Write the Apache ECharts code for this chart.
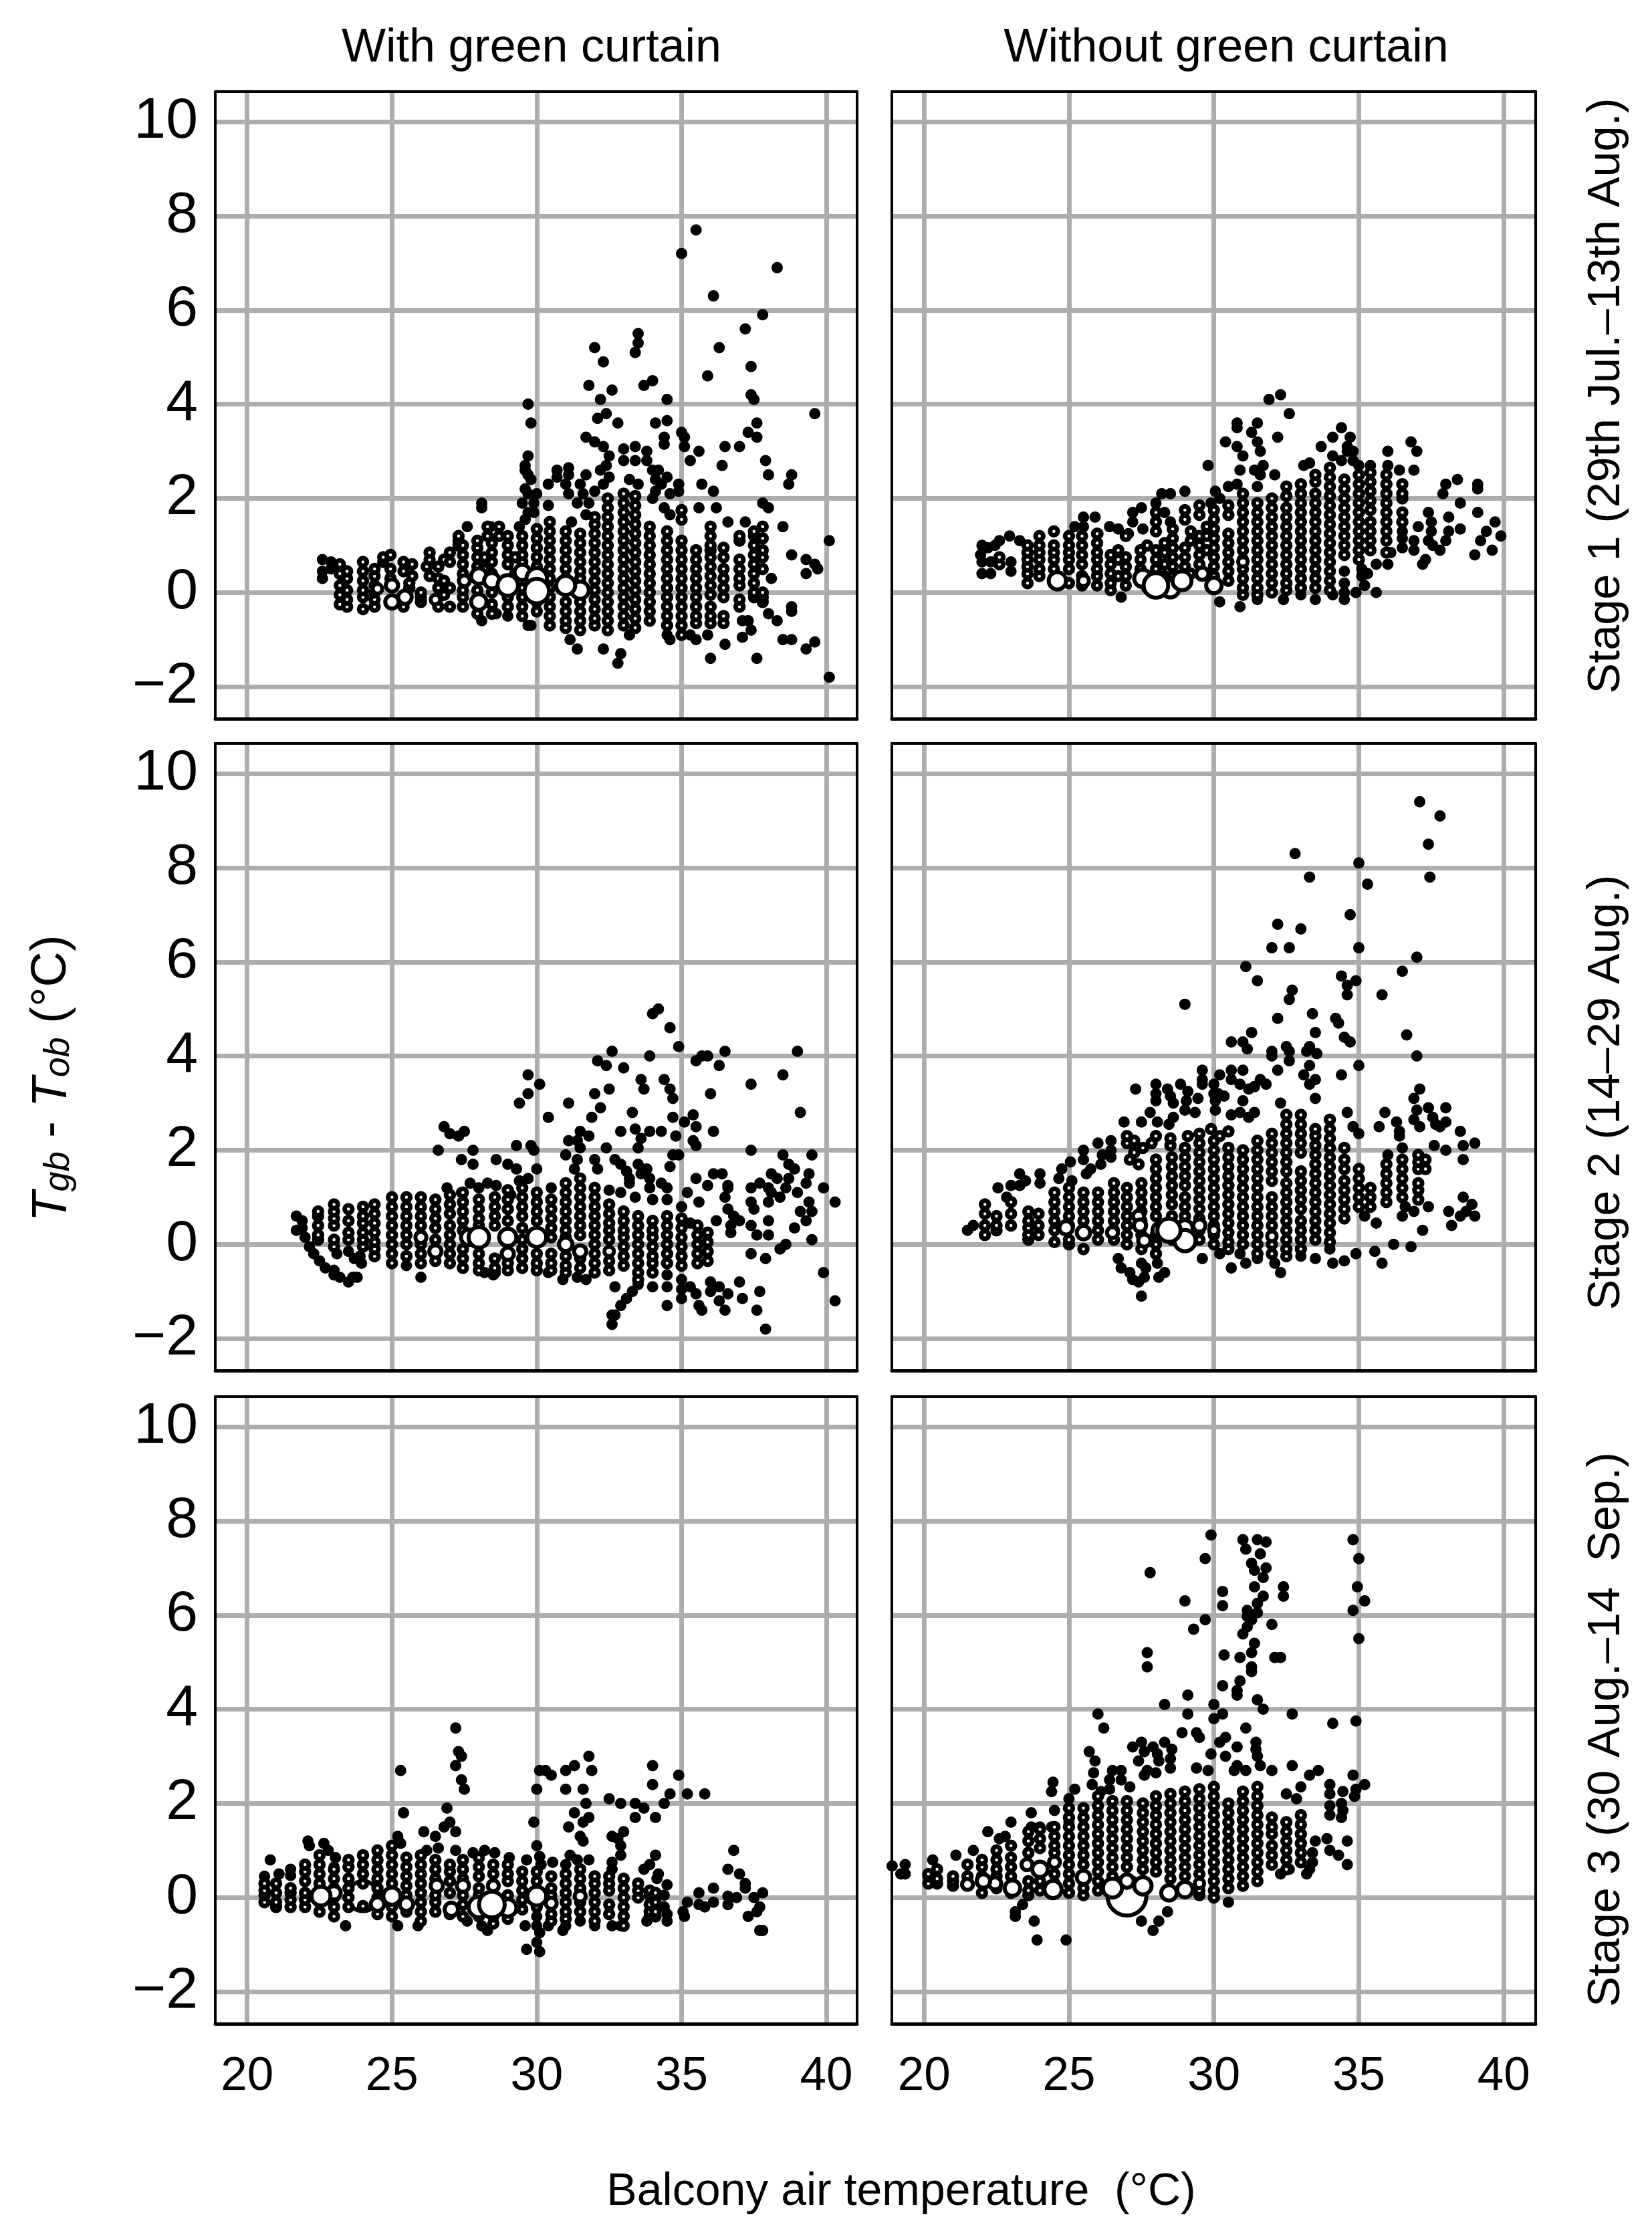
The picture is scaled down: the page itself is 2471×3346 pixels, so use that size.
<!DOCTYPE html>
<html><head><meta charset="utf-8">
<style>html,body{margin:0;padding:0;background:#fff}#c{width:2471px;height:3346px}</style>
<script src="https://cdn.jsdelivr.net/npm/echarts@6/dist/echarts.min.js"></script>
</head><body><div id="c"></div>
<script>
const xTicks=[20,25,30,35,40];
const yTicks=[-2,0,2,4,6,8,10];
const columnTitles=['With green curtain','Without green curtain'];
const stageTitles=['Stage 1 (29th Jul.\u201313th Aug.)','Stage 2 (14\u201329 Aug.)','Stage 3 (30 Aug.\u201314  Sep.)'];
const xTitle='Balcony air temperature  (\u00B0C)';

/* single readings: [air temperature, Tgb-Tob] */
const s1WithSolo=[[35.5,7.7],[35,7.2],[38.3,6.9],[36.1,6.3],[37.8,5.9],[37.2,5.6],[33.5,5.5],[33.5,5.3],[32,5.2],[36.3,5.2],[33.4,5.1],[32.3,4.9],[37.4,4.8],[35.9,4.6],[34,4.5],[33.7,4.4],[31.8,4.4],[32.6,4.3],[37.4,4.2],[37.5,4.1],[32.2,4.1],[34.5,4.1],[29.7,4],[32.4,3.8],[39.6,3.8],[32.1,3.7],[34.5,3.65],[29.8,3.6],[32.8,3.6],[34.1,3.6],[37.6,3.6],[35,3.4],[35.1,3.3],[37.3,3.4],[37.6,3.3],[31.7,3.3],[32,3.2],[34.4,3.3],[34.4,3.15],[36.5,3.1],[37,3.1],[35.1,3.1],[32.3,3.1],[33,3.05],[33.4,3.1],[33.8,3],[35.6,3],[29.7,2.9],[32.5,2.9],[33,2.8],[33.4,2.8],[33.8,2.8],[35.3,2.8],[37.9,2.8],[29.6,2.7],[29.6,2.6],[29.7,2.5],[36.4,2.7],[32.4,2.7],[32.2,2.6],[30.7,2.6],[31.1,2.65],[30.7,2.45],[31.1,2.5],[31.7,2.5],[34,2.6],[34.2,2.6],[38.8,2.5],[38,2.5],[32.5,2.45],[34.1,2.4],[34.5,2.45],[29.8,2.4],[33.2,2.4],[30.4,2.3],[31,2.3],[32.3,2.3],[33.5,2.3],[34.3,2.3],[31.5,2.3],[34.9,2.3],[35.7,2.3],[38.7,2.3],[29.6,2.2],[34.1,2.15],[34.9,2.15],[36.1,2.15],[32,2.15],[31.6,2.1],[30,2.1],[31.1,2.1],[29.7,2.1],[34.6,2.1],[34,2],[28.1,1.9],[28.1,1.8],[29.5,1.9],[29.9,1.9],[31.4,1.9],[31.8,1.9],[30.4,1.85],[37.8,1.9],[38,1.8],[35.6,1.8],[36.2,1.8],[34.4,1.8],[29.7,1.7],[29.9,1.7],[34.6,1.65],[31.7,1.65],[29.6,1.55],[31.2,1.5],[36.6,1.5],[38.5,1.4],[37.2,1.5],[29.4,1.4],[27.6,1.4],[28.4,1.4],[22.6,.7],[22.9,.65],[22.6,.45],[22.9,.5],[22.6,.3],[38.1,.3],[38.8,.8],[39.3,.7],[39.3,.4],[39.6,.6],[39.7,.5],[40.1,1.1],[38.8,-.3],[38.8,-.4],[38,-.45],[38.3,-.6],[38.5,-1],[38.8,-1],[39.6,-1.05],[39.3,-1.2],[40.1,-1.8],[37.6,-1.4],[36,-1.4],[36.5,-1.1],[37.1,-.95],[37.4,-.8],[37.3,-.6],[37.1,-.6],[35.9,-.9],[35.5,-1],[35.3,-.9],[34.6,-1],[34.5,-.9],[33.2,-.9],[32.9,-1.3],[32.8,-1.5],[32.3,-1.2],[31.4,-1.2],[31.15,-1],[28.1,-.6],[29.7,-.7],[29.8,-.7],[28.6,-.45],[29,-.5]];
const s1WithoutSolo=[[32.3,4.2],[31.9,4.1],[32.6,3.8],[31.5,3.6],[30.8,3.6],[30.8,3.5],[31.3,3.4],[32.2,3.3],[31.5,3.2],[30.4,3.2],[30.8,3.1],[31.6,3],[31,2.9],[29.8,2.7],[31.7,2.7],[30.9,2.6],[31.4,2.6],[31.6,2.5],[32.1,2.5],[30.8,2.3],[30.5,2.25],[31.5,2.25],[34.4,3.5],[34.1,3.3],[34.7,3.3],[33.7,3.1],[34.6,3.1],[34.1,2.9],[34.4,2.8],[34.6,3],[34.8,3],[34.8,2.8],[33.3,2.75],[33.1,2.7],[36.8,3.2],[37,3],[36,3],[36,2.7],[35.4,2.7],[35,2.7],[36.4,2.6],[36.9,2.6],[38.4,2.4],[38,2.3],[39.1,2.3],[39.1,2.2],[37.9,2.1],[38.5,1.9],[39.1,1.7],[38.1,1.6],[39.7,1.5],[39.4,1.3],[39.9,1.2],[38.5,1.35],[39.2,1.1],[39.6,.9],[39,.8],[38.1,1.3],[38,1.1],[37.8,.9],[37.3,.7],[37.2,.6],[37.4,1.7],[37.5,1.5],[37.5,1.3],[37.05,1.4],[36.9,1.1],[36.9,.9],[37.4,1.1],[37.55,1],[36.5,1.3],[36.5,1.15],[36.5,.95],[36.1,.85],[36,.6],[35.6,.6],[35.6,0],[34.9,0],[35.2,.15],[35.1,.35],[35.3,.4],[35.1,.5],[34.5,.45],[34.5,.2],[34.5,0],[34.5,-.15],[34.1,-.05],[33.5,-.15],[33,-.05],[32.4,-.15],[31.5,-.15],[30.9,-.3],[30.2,-.2],[26.8,-.1],[29,2.15],[30.05,2.15],[30.2,2],[28.2,2.1],[28.5,2.1],[27.5,1.8],[27.2,1.7],[27.2,1.5],[27.55,1.35],[25.5,1.6],[25.9,1.6],[25.2,1.4],[26.4,1.4],[26.7,1.35],[27.05,1.25],[22.95,1.2],[23.3,1.1],[22.6,1.1],[22.45,1],[22.2,.95],[22,1],[21.95,.8],[22,.65],[22.3,.65],[22.3,.4],[22,.4],[23,.65],[23,.45],[29.9,1.9],[28,1.9],[28.3,1.7],[28.5,1.5],[25.5,1.4],[26,1.25]];
const s2WithSolo=[[34.2,5],[34,4.9],[34.6,4.6],[34.9,4.2],[32.6,4.1],[36.5,4.1],[39,4.1],[33.9,4],[35.7,4],[35.9,4],[35.5,3.9],[32.1,3.9],[32.4,3.8],[33,3.75],[36.3,3.8],[29.7,3.6],[38.5,3.6],[30.1,3.4],[33.6,3.5],[34.4,3.5],[34.6,3.3],[33.7,3.3],[32.5,3.3],[37.4,3.4],[29.7,3.2],[32,3.2],[36,3.2],[34.7,3.1],[29.4,3],[31.1,3],[32.2,2.9],[33.3,2.8],[39.1,2.8],[35.4,2.75],[30.4,2.7],[31.9,2.7],[34.7,2.7],[35.1,2.6],[26.8,2.5],[35.5,2.5],[27,2.35],[27.3,2.3],[27.5,2.4],[31.5,2.4],[32.9,2.4],[33.4,2.45],[33.9,2.4],[34.3,2.4],[36.1,2.4],[31.8,2.3],[34.8,2.3],[35.4,2.2],[33.6,2.25],[31.1,2.2],[31.4,2.2],[29.3,2.1],[29.8,2.1],[35.5,2.1],[29.9,2],[26.6,2],[27.8,2],[31.5,2.05],[32.4,2.05],[33.5,2.05],[37.4,2],[38.5,1.9],[39.5,1.9],[34.7,1.9],[34.9,1.9],[27.4,1.8],[27.8,1.7],[28.6,1.8],[31,1.9],[31.4,1.8],[32,1.8],[32.7,1.8],[29,1.7],[29.3,1.6],[30,1.6],[34.6,1.65],[32.9,1.7],[33.5,1.7],[33.8,1.6],[38.7,1.7],[38.9,1.6],[31.3,1.6],[32.1,1.6],[33.1,1.55],[36.1,1.5],[36.4,1.5],[39.4,1.5],[38.1,1.5],[38.3,1.4],[35.5,1.4],[38.7,1.4],[33.2,1.4],[33.2,1.3],[33.6,1.5],[33.9,1.4],[27.7,1.3],[28.3,1.3],[29.7,1.4],[29.4,1.35],[37.7,1.3],[39.3,1.3],[35.9,1.25],[36.6,1.25],[34.3,1.3],[26.9,1.2],[28,1.2],[28.6,1.25],[36.6,1.2],[37.4,1.2],[38,1.2],[38.6,1.2],[39.9,1.2],[33.9,1.2],[34.5,1.2],[32.5,1.15],[30.5,1.2],[27.4,1.1],[29.1,1.05],[32.9,1.1],[35.2,1.1],[36.5,1],[39,1.1],[38.1,1.1],[35.6,.9],[40.3,.9],[39.4,.9],[37.4,.9],[38,.9],[38.4,1],[34.5,.95],[34,.95],[33.4,1],[35,.8],[37.5,.75],[36.6,.75],[39.1,.7],[39.5,.7],[36.8,.6],[37,.5],[37.4,.4],[36.7,.4],[36.7,.25],[38,.5],[39.3,.5],[38.9,.35],[36.2,.5],[35.3,.45],[37.6,.2],[38,.2],[39.5,.1],[38.6,0],[38.4,-.1],[37.4,-.2],[37.9,-.3],[39.9,-.6],[40.3,-1.2],[37,-.8],[37.7,-1],[37.1,-1.15],[37.6,-1.4],[37.9,-1.8],[36.6,-1.05],[36.3,-.9],[36.3,-1.2],[36.5,-1.4],[36,-.8],[36,-1],[35.5,-1.05],[35.3,-.9],[35,-.95],[35,-1.15],[34.5,-1.3],[35.6,-1.3],[35.7,-1.4],[34.5,-.9],[34.5,-.65],[35,-.75],[32.6,-1.5],[32.7,-1.5],[32.6,-1.7],[32.9,-1.3],[33.1,-1.15],[33.3,-1],[32.7,-.9],[33.5,-.85],[34,-.9],[21.7,.6],[21.7,.3],[21.9,.5],[21.9,.35],[22,.15],[22.15,-.05],[22.3,-.2],[22.5,-.35],[22.7,-.5],[23,-.55],[23,-.65],[23.2,-.7],[23.5,-.8],[23.8,-.7],[23.65,-.7],[23.1,-.2],[23.5,-.15],[23.9,-.25],[23.95,-.4],[23.7,-.3],[26,-.7],[25.5,-.45],[28.2,-.6],[28.5,-.65],[30.4,-.6],[31.4,-.7],[31.7,-.75],[30.9,-.75]];
const s2WithoutSolo=[[37.1,9.4],[37.8,9.1],[37.4,8.5],[32.8,8.3],[35,8.1],[33.3,7.8],[37.45,7.8],[35.3,7.65],[34.7,7],[32.2,6.8],[33,6.7],[32,6.3],[32.6,6.3],[35,6.3],[37,6.1],[31.1,5.9],[36.5,5.8],[31.5,5.6],[34.4,5.7],[34.9,5.6],[34.6,5.5],[32.7,5.4],[34.6,5.3],[35.8,5.3],[32.6,5.2],[29,5.1],[33.4,4.9],[34.2,4.8],[34.3,4.7],[32.2,4.8],[31.3,4.5],[33.5,4.5],[36.65,4.45],[34.5,4.4],[34.7,4.3],[30.6,4.3],[31,4.3],[31.15,4.15],[32.5,4.2],[32.6,4.1],[33.3,4.2],[33.2,4.1],[32,4.1],[32,4],[33.55,4.05],[37,4],[32.6,3.9],[33.3,3.8],[35,3.8],[32.2,3.7],[29.6,3.7],[30.2,3.6],[30.6,3.7],[30.6,3.5],[31,3.7],[30.9,3.4],[33.1,3.6],[34.4,3.6],[31.6,3.5],[31.8,3.4],[31.4,3.35],[31.2,3.3],[33.5,3.5],[33.3,3.4],[29.6,3.5],[29.6,3.4],[28,3.4],[28.4,3.3],[28.85,3.4],[28,3.2],[28,3.05],[27.3,3.3],[30,3.4],[30,3.2],[30.15,3.2],[30.35,3.15],[30.05,3.05],[37.1,3.3],[29.1,3.25],[29.45,3.1],[29.05,3.05],[28.5,3.15],[28.6,3],[31,3.05],[33.5,3.1],[36.9,3.1],[32.3,3],[29,2.85],[29.35,2.8],[30.05,2.85],[27.8,2.8],[30.6,2.75],[30.9,2.8],[31.4,2.8],[31.2,2.7],[34.6,2.8],[35.9,2.8],[37,2.85],[37.4,2.9],[38,2.9],[26.9,2.6],[27.5,2.6],[28.05,2.6],[28.6,2.7],[28.45,2.55],[37.55,2.7],[37.65,2.55],[37.8,2.5],[38,2.6],[36.9,2.65],[37.1,2.5],[36.3,2.6],[35.7,2.5],[36.4,2.4],[36.4,2.3],[34.8,2.5],[35,2.35],[38.5,2.4],[39,2.15],[38.6,2.1],[37.6,2.1],[38,2],[36.5,2.05],[36,1.9],[38.6,1.8],[38.6,1],[38.9,.85],[39,.6],[38.7,.7],[38.5,.6],[38.1,.7],[38.2,.4],[37.2,.3],[37.4,.8],[36.9,.7],[36.6,.8],[36.5,.6],[36.8,-.05],[36.2,0],[35.55,-.15],[35.8,-.4],[34.9,-.2],[34.5,-.35],[34.1,-.4],[35.6,.45],[35.2,.6],[34,-.1],[33.5,-.3],[33,-.25],[32.3,-.6],[32.1,-.4],[31.5,-.3],[31.1,-.4],[30.6,-.5],[30.9,-.2],[30.2,-.2],[29.6,-.3],[27.5,-1.1],[27.4,-.8],[27.2,-.75],[27.1,-.6],[27.6,-.7],[28.1,-.7],[28.3,-.6],[26.8,-.5],[26.7,-.3],[27.5,-.4],[27.65,-.5],[28.05,-.4],[21.5,.3],[21.7,.4],[22.55,1.2],[22.85,1],[23.3,1.5],[23.5,1.35],[23.3,1.25],[23,1.25],[24,1.5],[24,1.3],[24.65,1.4],[24.75,1.6],[25.05,1.75],[25.1,1.35],[25.5,2],[25.5,1.8],[26,2.15],[26.45,2.2],[26.45,2],[26.45,1.85],[26.15,1.9],[26.1,1.7],[25.6,1.5],[25.75,1.6]];
const s3WithSolo=[[27.2,3.6],[27.3,3.1],[27.4,3],[27.2,2.8],[25.3,2.7],[27.4,2.5],[27.5,2.3],[26.9,1.9],[25.4,1.8],[27,1.6],[26.8,1.5],[27.2,1.4],[26.1,1.4],[26.5,1.3],[25.2,1.3],[31.8,3],[31.3,2.8],[30.1,2.7],[30.3,2.7],[31,2.7],[31.9,2.7],[30.5,2.6],[34,2.8],[34.9,2.6],[34,2.4],[30,2.3],[31,2.3],[31.6,2.3],[34.6,2.2],[35.2,2.2],[35.8,2.2],[32.5,2.1],[31.7,2],[32.9,2],[33.4,2],[34.4,2],[33.7,1.9],[31.3,1.8],[31.8,1.7],[33.4,1.7],[34.1,1.7],[31.6,1.6],[29.9,1.6],[31.1,1.5],[33,1.4],[32.6,1.3],[32.8,1.25],[31.5,1.3],[31.6,1.2],[30,1.1],[32.9,1.1],[36.8,1],[34.1,.9],[32.9,.9],[31.15,.9],[29.65,.8],[30.1,.87],[30.15,.7],[30.55,.75],[31.4,.8],[31.8,.8],[32.6,.75],[32.6,.6],[31,.7],[33.9,.7],[33.7,.6],[36.6,.6],[37,.5],[34.2,.5],[34.15,.4],[37.2,.3],[37.2,.2],[34.5,.27],[36.1,.2],[35.6,.1],[37.8,.1],[36.6,.03],[36.9,0],[37.5,0],[34.4,.05],[35.2,-.1],[36.1,-.1],[35.6,-.15],[35.8,-.2],[36.6,-.15],[37.7,-.2],[37.6,-.3],[37.3,-.4],[35.05,-.3],[35.1,-.4],[34.4,-.2],[34.5,-.35],[34.5,-.5],[37.7,-.7],[37.8,-.7],[29.65,-1.1],[30.1,-1.15],[30,-.95],[30.1,-.75],[30,-.6],[30,-.4],[29.6,-.6],[30.4,-.6],[31,-.6],[30.9,-.7],[23.4,-.6],[25.2,-.6],[25.9,-.6],[28.3,-.7],[28.1,-.6],[27.6,-.5],[32,-.6],[32.6,-.6],[32.9,-.6],[31.5,-.5],[33.8,-.5],[20.8,.8],[22.1,1.2],[22.15,1.1],[22.65,1.15],[22.8,1],[23.05,.85],[23,.65],[20.6,.45],[21.1,.5],[21.5,.6],[21.5,.47],[25,1.1],[25.3,1.15],[26.2,1],[26.6,1.05],[27.2,1],[27.8,.95],[28.2,1],[28.55,.95],[29.05,.85]];
const s3WithoutSolo=[[29.9,7.7],[31,7.6],[31.5,7.6],[31.8,7.55],[34.8,7.6],[31.1,7.4],[31.6,7.3],[35,7.2],[29.7,7.2],[31.3,7.1],[31.4,6.95],[31.8,7],[31.7,6.8],[27.8,6.9],[31.4,6.6],[32.4,6.6],[32.4,6.4],[34.95,6.6],[30.3,6.5],[31.7,6.4],[31.5,6.25],[35.2,6.3],[29,6.3],[30.3,6.2],[31.15,6.1],[31.5,6.05],[34.8,6.1],[31.15,5.97],[31.3,5.9],[29.7,5.9],[32,5.8],[31.15,5.75],[31,5.6],[29.3,5.7],[35,5.5],[31.4,5.4],[27.7,5.2],[27.7,4.9],[31.3,5.2],[30.35,5.15],[30.9,5.1],[32.1,5.1],[32.3,5.1],[31.3,4.9],[31.3,4.8],[30.9,4.6],[30.3,4.5],[30.8,4.4],[30.8,4.3],[29.1,4.3],[31.5,4.2],[30,4.1],[28.3,4.1],[31.7,4],[26,3.9],[29.1,3.9],[30.3,3.9],[32.7,3.9],[30,3.8],[34.9,3.75],[34.1,3.7],[26.2,3.6],[31.1,3.6],[28.9,3.5],[29.4,3.5],[29.5,3.4],[30.4,3.4],[30.2,3.3],[30.8,3.2],[31.45,3.3],[31.45,3.15],[27.2,3.2],[27.5,3.3],[27.9,3.2],[28.3,3.3],[28.55,3.15],[27.6,3.1],[25.7,3.1],[29.9,3.05],[30.4,3],[28.05,3.05],[28.1,2.9],[27.4,2.9],[31.5,3],[31.6,2.8],[25.9,2.9],[28.5,2.95],[28.5,2.75],[30.8,2.8],[30.7,2.7],[32.7,2.8],[29.4,2.75],[29.8,2.7],[31.1,2.7],[32,2.7],[33.6,2.7],[26.5,2.7],[26.8,2.7],[27.7,2.7],[28,2.65],[27.6,2.6],[25.85,2.65],[26.4,2.5],[26.8,2.5],[27.1,2.35],[33.3,2.6],[34.8,2.6],[35.2,2.4],[34,2.4],[34,2.2],[34.45,2.25],[34.9,2.3],[34.85,2.15],[33,2.35],[32.5,2.2],[32.85,2.1],[34,1.95],[34.4,2],[34.45,1.85],[34,1.75],[34.4,1.7],[24.45,2.45],[24.4,2.25],[25.8,2.4],[26.1,2.25],[26.4,2.3],[25.2,2.3],[25,2.1],[25,1.9],[24.5,1.85],[25,1.6],[23.7,1.8],[23.7,1.5],[24,1.5],[24.4,1.5],[23,1.6],[22.2,1.4],[22.8,1.3],[22.6,1.25],[21.7,1],[21.1,.9],[20.3,.8],[18.9,.67],[19.35,.7],[19.35,.5],[19.2,.5],[34.6,1.2],[33.9,1.25],[34,1],[34.3,.9],[34.6,.7],[33.5,1.2],[33.4,.95],[33.4,.75],[33.3,.6],[33.2,.5],[32.6,.6],[32.3,.5],[30.5,-.1],[28.4,-.3],[27.5,-.5],[28.1,-.5],[27.9,-.7],[23.9,-.9],[24.9,-.9],[23.8,-.5],[23.15,-.3],[23.15,-.4],[23.4,-.15]];

/* repeated readings drawn as small rings: [air temperature, [differences...]] */
const s1WithCols=[[23.2,[.6,.4,.15,-.05,-.25]],[23.45,[.45,.3,.05,-.15,-.3]],[24,[.65,.45,.25,.05,-.1,-.35]],[24.4,[.5,.35,.15,0,-.15,-.3]],[24.7,[.75,.65]],[24.95,[.8,.5,.3]],[25.4,[.65,.45,-.3]],[25.6,[.2,.1]],[25.7,[.6,.35]],[26,[0,-.1,-.2]],[26.2,[.55]],[26.3,[.85,.7,.35]],[26.6,[.55,.3,.1,-.1,-.3]],[26.8,[.7,.25,-.05]],[27,[.85,.65,.1,-.3]],[27.3,[1.2,1.1,1]],[27.45,[1,.8,.6,.4,.05,-.1,-.3]],[27.95,[1.1,.95,.75,.55,.05,-.45]],[28.2,[.75,.5]],[28.3,[1.4,1.2]],[28.45,[1.05,.85,.65,.4,0,-.25,-.45]],[28.7,[1.4,1.2]],[29,[1.2,1,.8,.6,-.1,-.3]],[29.25,[.75,.4]],[29.5,[1.2,1,.8,.65,.1,-.1,-.3,-.5]],[30,[1.35,1.15,.95,.75,.55,-.2,-.4]],[30.45,[1.5,1.3,1.1,.9,.7,.5,.3,.1,-.1,-.3,-.5,-.7]],[31,[1.3,1.1,.9,.7,.5,.3,-.2,-.4,-.6,-.75]],[31.5,[1.25,1.05,.85,.65,.45,.3,-.2,-.4,-.6,-.8]],[32,[1.6,1.45,1.25,1.05,.85,.65,.45,.25,.05,-.15,-.35,-.55,-.7]],[32.45,[2,1.8,1.6,1.4,1.2,1,.8,.6,.4,.2,0,-.2,-.4,-.6,-.8]],[33,[2.1,1.9,1.7,1.5,1.3,1.1,.9,.7,.5,.3,.1,-.1,-.3,-.5,-.7]],[33.4,[2.05,1.85,1.65,1.45,1.25,1.05,.85,.65,.45,.25,.05,-.15,-.35,-.55,-.75]],[33.9,[1.4,1.2,1,.8,.6,.4,.2,0,-.2,-.4,-.6]],[34.5,[1.3,1.1,.9,.7,.5,.3,.1,-.1,-.3,-.5,-.7]],[35,[1.75,1.55,1.1,.9,.7,.5,.3,.1,-.1,-.3,-.5,-.7,-.9]],[35.5,[.9,.7,.5,.3,.1,-.1,-.3,-.5,-.65]],[36,[1.4,1.2,1,.9,.75,.55,.35,.15,-.05,-.3,-.5,-.65]],[36.45,[.95,.75,.5,.3,.1,-.1,-.5,-.65]],[37,[1.2,1.1,.7,.5,.3,.15,-.15,-.3]],[37.5,[1.3,1.2,1,.8,.6,.4,.2,0,-.1]],[37.8,[1.4,1.15,.9,.75,.5,0,-.1,-.2]]];
const s1WithoutCols=[[22.6,[.75,.6]],[23.57,[1,.85,.7,.55,.4,.2]],[23.98,[1.2,1,.85,.7,.5,.35]],[24.48,[1.3,1,.85,.7,.5,.3]],[25,[1.2,1,.85,.7,.5,.2]],[25.45,[1.2,1,.8,.6,.35,.15]],[25.97,[1.25,1.05,.85,.7,.5,.35,.15]],[26.44,[.8,.6,.4,.2,.05]],[26.7,[.9,.7,.35]],[26.96,[1.2,.75,.55,.35,.15]],[27.47,[.9,.7,.5]],[27.7,[1,.3,.1]],[28,[1.7,1.5,1.3,.9,.7,.5]],[28.3,[1.05,.85,.6,.35]],[28.58,[1.35,1.15,.95,.75,.55,.35]],[29,[1.75,1.55,.95,.75,.55]],[29.2,[1.3,1.1,.4]],[29.5,[1.85,1.65,1.2,1,.8,.6]],[29.75,[1.4,1.2,.9]],[30,[1.75,1.55,1.35,1.15,.95,.75,.55,.35]],[30.5,[1.85,1.65,1.25,1.05,.85,.65,.45,.25]],[31,[2.1,1.9,1.7,1.5,1.3,1.1,.9,.7,.5,.3,.1,-.05]],[31.5,[1.9,1.7,1.5,1.3,1.1,.9,.7,.5,.3,.1,-.05]],[32,[2,1.8,1.6,1.4,1.2,1,.8,.6,.4,.2,0]],[32.5,[2.25,2.05,1.8,1.6,1.4,1.2,1,.8,.6,.4,.2,.05]],[33,[2.3,2.1,1.9,1.7,1.5,1.3,1.1,.9,.7,.5,.3,.1]],[33.5,[2.5,2.35,2.1,1.9,1.7,1.5,1.3,1.1,.9,.7,.5,.3,.1]],[34,[2.65,2.45,2.25,2.05,1.85,1.65,1.45,1.25,1.05,.85,.65,.45,.25,.05]],[34.5,[2.4,2.2,2,1.8,1.6,1.4,1.2,1,.8]],[35,[2.5,2.3,2.1,1.9,1.7,1.5,1.3,1.1,.9,.7]],[35.4,[2.55,2.35,2.15,1.95,1.75,1.5,1.3,1.1,.9]],[35.95,[2.5,2.3,2.1,1.9,1.7,1.5,1.3,1.1,.85]],[36.5,[2.3,2.1,2,1.7,1.5]]];
const s2WithCols=[[22.45,[.7,.6,.4,.2,.1]],[23,[.85,.7,.55,.4,.1,-.05]],[23.5,[.75,.5,.25,.1]],[24,[.8,.6,.45,.25,.1,-.05]],[24.4,[.85,.65,.45,.25,.05,-.1,-.25]],[25,[1,.8,.6,.4,.2,0,-.2,-.4]],[25.5,[1,.8,.6,.4,.2,0,-.25]],[26,[1,.8,.6,.4,.2,0,-.2,-.4]],[26.5,[.95,.75,.55,.35,.1,-.35]],[27,[1.05,.85,.65,.4,.2,0,-.2,-.4]],[27.45,[1.1,.9,.7,.5,.3,-.1,-.3,-.5]],[28,[.95,.75,.55,.4,-.2,-.4,-.55]],[28.55,[1,.8,.6,.4,-.3,-.5,-.6]],[29,[1.15,.95,.75,.5,-.4,-.55]],[29.5,[1.2,1,.8,.6,.35,.1,-.1,-.3,-.5]],[30,[1.1,.9,.7,.5,-.2,-.4,-.55]],[30.5,[.95,.75,.55,.35,.15,-.2,-.4,-.55]],[31,[1.3,1.1,.9,.7,.5,.3,.15,-.25,-.45,-.6]],[31.5,[1.4,1.2,1,.8,.6,.4,.2,-.3,-.5]],[32,[1.2,1,.8,.6,.4,.2,0,-.2,-.4,-.6]],[32.5,[.85,.65,.45,.3,.1,-.15,-.35,-.55]],[33,[.7,.5,.3,.15,-.05,-.25,-.45]],[33.5,[.6,.4,.2,0,-.2,-.4,-.6,-.75]],[34,[.5,.3,.15,-.05,-.25,-.4,-.6]],[34.5,[.6,.4,.2,0,-.2,-.4]],[35,[.55,.35,.15,-.05,-.25,-.45]],[35.55,[.4,.2,0,-.2,-.4]],[35.9,[.25,.05,-.15,-.35]]];
const s2WithoutCols=[[22.1,[.85,.65,.4,.2]],[22.5,[.6,.4,.3]],[23,[.9,.65,.4]],[23.6,[.7,.5,.35,.2,.1]],[23.95,[.65,.4,.2]],[24.5,[1.1,.9,.7,.5,.3,.05]],[25,[1.2,1,.8,.6,.4,.1,0]],[25.5,[1.1,.9,.7,.5,.2,-.1]],[26,[1.1,.9,.7,.5,.3,.1]],[26.55,[1.3,1.1,.9,.7,.5,.3,.1]],[27,[2.3,2.15,1.2,1,.8,.6,.4,.2,0]],[27.1,[1.8]],[27.25,[2.2,1.95]],[27.4,[1.7]],[27.5,[1.3,1.1,.9,.7,.5,.2,-.1]],[27.55,[2.05]],[27.85,[2.15]],[28,[2.3,1.8,1.6,1.4,1.2,1,.8,.6,.2,0,-.2]],[28.5,[2.25,2.1]],[28.55,[1.85,1.65,1.45,1.25,1.05,.85,.6,.3,.1]],[29,[2.05,1.85,1.65,1.45,1.25,1,.8,.6]],[29.1,[2.3]],[29.5,[2.35,2.15,1.95,1.75,1.55,1.35,1.15,.95,.75,.55,.3,.1]],[29.9,[2.45]],[30,[2.2,2,1.8,1.6,1.4,1.2,1,.8,.6,.4,.2,0]],[30.2,[2.3]],[30.5,[2.4,2.05,1.85,1.65,1.45,1.25,1.05,.85,.65,.45,.25,.05,-.1]],[31,[2,1.8,1.6,1.4,1.2,1,.8,.6,.4,.2,0]],[31.5,[2.2,2,1.8,1.6,1.4,1.2,1,.8,.6,.4,.2,0,-.2]],[32,[2.35,2.15,1.95,1.75,1.55,1.35,1,.8,.6,.4,.2,0,-.2]],[32.5,[2.75,2.55,2.35,2.15,1.95,1.75,1.55,1.3,1.1,.9,.7,.5,.3,.1,-.1,-.25]],[33,[2.75,2.55,2.35,2.15,1.95,1.55,1.35,1.15,.95,.75,.5,.3,.1,-.1]],[33.5,[2.45,2.3,2.1,1.9,1.7,1.5,1.3,1.1,.9,.7,.5,.3,.1]],[34,[2.65,2.45,2.25,2.05,1.85,1.65,1.45,1.25,1.05,.85,.65,.45,.25,.05]],[34.5,[2.05,1.8,1.6,1.35,1.15,.95,.75,.55]],[35,[1.6,1.4,1.2,1,.8]],[35.4,[1.2,1,.8]],[35.95,[1.7,1.5,1.3,1.1,.9]],[36.5,[1.8,1.6,1.4,1.2,1]],[37.05,[1.9,1.75,1.6,1.3,1.15,.95]],[37.3,[1.8,1.6]]];
const s3WithCols=[[20.6,[.3,.15,.05,-.1]],[21,[.3,.1,-.1,-.2]],[21.5,[.2,.1,-.05,-.2]],[22,[.7,.55,.35,.1,-.05,-.2]],[22.5,[.9,.7,.5,.3,-.1,-.3]],[23,[.6,.4,.2,0,-.2,-.4]],[23.5,[.8,.65,.4,.2,0,-.2]],[24,[.9,.7,.5,.3]],[24.5,[1,.8,.6,.4,.2,0,-.35]],[25,[1.1,.9,.7,.5,.3,-.2,-.4]],[25.5,[.85,.65,.45,.25,.05,-.3]],[26,[.9,.7,.5,.3,.1,-.1,-.3,-.5]],[26.5,[.8,.6,.4,.05,-.1,-.3]],[27,[.7,.55,.35,.1,-.35]],[27.45,[.8,.6,.4,.05,-.15,-.4]],[28,[.85,.65,.45,.2,.05,-.4]],[28.5,[.7,.5,-.4,-.55]],[29,[.7,.5,.35,.05,-.45]],[29.5,[.55,.35,.15,-.05,-.25]],[30,[.55,.35,.15,-.2]],[30.5,[.45,.2,.05,-.35,-.5]],[31,[.5,.3,.1,-.1,-.3,-.45]],[31.5,[.6,.4,.2,.1,-.1,-.3]],[32,[.45,.3,.1,-.1,-.3,-.5]],[32.5,[.45,.3,.15,-.15,-.35]],[33,[.4,.2,0,-.2,-.4,-.6]],[33.5,[.3,.15,0]],[33.9,[.15,.05,-.15,-.3,-.4]],[34.1,[.1,-.1,-.3,-.4]]];
const s3WithoutCols=[[20.15,[.5,.3,.45]],[20.45,[.6,.4,.3]],[21,[.45,.35,.25]],[21.5,[.7,.45]],[22,[.8,.65,.45,.1]],[22.5,[1,.8,.6,.45,.2]],[23,[1.1,.85,.65,.45,.1]],[23.6,[1.4,1.2,.95,.35,.15,.05]],[24,[1.45,1.25,1.05,.35,.15]],[24.5,[1.5,1.3,1.1,.95,.5,.3,.1]],[25,[1.9,1.7,1.5,1.3,1.1,.9,.7,.5,.3,.1]],[25.5,[1.9,1.7,1.5,1.3,1.1,.9,.7,.2,.05]],[26,[2.15,1.95,1.75,1.55,1.35,1.15,.95,.75,.55,.35,.15]],[26.5,[2.05,1.85,1.65,1.45,1.25,1.05,.85,.65,.45]],[27,[2.05,1.85,1.65,1.45,1.25,1.05,.85,.65,.3]],[27.55,[2,1.8,1.6,1.4,1.2,1,.8,.6]],[28,[2.15,1.95,1.75,1.55,1.35,1.15,.95,.75,.55]],[28.5,[2.2,2,1.8,1.6,1.4,1.2,1,.8,.6,.4]],[29,[2.25,2.05,1.85,1.65,1.45,1.25,1.05,.85,.65,.45]],[29.5,[2.3,2.1,1.9,1.7,1.5,1.3,1.1,.9,.7,.5,.15,.05]],[30,[2.35,2.15,1.95,1.75,1.55,1.35,1.15,.95,.75,.55,.35,.15,0]],[30.5,[2,1.8,1.6,1.4,1.2,1,.8,.6,.4,.2]],[31,[2.25,2.05,1.85,1.65,1.45,1.25,1.05,.85,.65,.45,.25]],[31.5,[2.35,2.15,1.95,1.75,1.55,1.35,1.15,.95,.75,.55,.35]],[32,[1.7,1.5,1.35,1.1,.9,.7]],[32.5,[1.6,1.4,1.2,1,.8,.6]],[33,[1.75,1.55,1.35,1.15,.95,.75]]];

/* pooled readings drawn as wide rings: [air temperature, difference, count] */
const s1WithBig=[[31,.15,12],[30,.3,14],[30,.03,20],[29.5,.43,8],[29,.15,14],[28.45,.25,8],[28,.35,8],[28,-.2,8],[31.5,.05,10],[25,.15,5],[25,-.2,6],[25.45,-.1,6],[24.5,.08,3],[27.5,.25,4],[26.5,-.15,3]];
const s1WithoutBig=[[24.6,.25,10],[28,.15,20],[28.5,.08,10],[27.55,.3,10],[30,.15,8],[31,.65,3],[25.5,.25,4],[29.6,.4,5],[28.9,.25,12]];
const s2WithBig=[[28,.15,14],[30,.15,12],[29,.15,10],[31,0,6],[31.5,-.15,5],[26.5,-.15,5],[26,.15,4],[29,-.2,5],[27.65,.15,8],[32.5,-.15,3]];
const s2WithoutBig=[[27.4,.6,4],[27.45,.4,5],[24.9,.35,6],[25.5,.25,6],[29,.35,8],[29,.08,15],[29.5,.4,5],[28.15,.3,8],[28.45,.3,18],[26.5,.25,4],[27.6,.08,5],[32,.17,3],[30,.3,3]];
const s3WithBig=[[24,.03,30],[22.55,.03,12],[24,-.18,2],[23,.1,6],[25,.03,10],[28.45,-.15,22],[29,-.22,10],[28,-.2,14],[30,.03,12],[30.5,-.12,4],[26.55,.25,5],[27.45,.25,5],[28.5,.25,4],[27.05,-.25,6],[31.5,.03,4],[25.5,-.14,6],[24.5,-.14,6]];
const s3WithoutBig=[[27,.03,50],[26.5,.2,12],[27.55,.25,10],[27,.35,6],[28.45,.1,8],[29,.17,8],[22.05,.35,6],[22.45,.3,5],[23.05,.2,8],[21.5,.28,4],[24,.6,8],[23.55,.7,4],[24.5,.75,4],[24.45,.17,10],[25.5,.43,6],[29.5,.3,3]];

const panels=[
 {row:0,col:0,solo:s1WithSolo,cols:s1WithCols,big:s1WithBig},
 {row:0,col:1,solo:s1WithoutSolo,cols:s1WithoutCols,big:s1WithoutBig},
 {row:1,col:0,solo:s2WithSolo,cols:s2WithCols,big:s2WithBig},
 {row:1,col:1,solo:s2WithoutSolo,cols:s2WithoutCols,big:s2WithoutBig},
 {row:2,col:0,solo:s3WithSolo,cols:s3WithCols,big:s3WithBig},
 {row:2,col:1,solo:s3WithoutSolo,cols:s3WithoutCols,big:s3WithoutBig}
];

const colLeft=[322,1334],colWidth=[960,963],rowTop=[137,1112,2089],panelH=938;
const xMinMax=[[18.9,41.06],[18.89,41.1]];
const yMin=-2.68,yMax=10.64;
const FF='"Liberation Sans",Arial,sans-serif';
const GRID='#adadad',INK='#000';

const grid=[],xAxis=[],yAxis=[],series=[];
panels.forEach((p,i)=>{
  grid.push({left:colLeft[p.col],top:rowTop[p.row],width:colWidth[p.col],height:panelH,containLabel:false,show:false});
  const isBottom=p.row===2,isLeft=p.col===0;
  const xr=xMinMax[p.col];
  const xCommon={type:'value',gridIndex:i,min:xr[0],max:xr[1]};
  const yCommon={type:'value',gridIndex:i,min:yMin,max:yMax};
  xAxis.push(Object.assign({},xCommon,{position:'bottom',
    axisLine:{show:true,onZero:false,lineStyle:{color:INK,width:5}},
    axisTick:{show:false,customValues:xTicks},
    axisLabel:{show:isBottom,customValues:xTicks,margin:44,fontFamily:FF,fontSize:71,color:INK,hideOverlap:false,showMinLabel:true,showMaxLabel:true},
    splitLine:{show:true,lineStyle:{color:GRID,width:7}}}));
  xAxis.push(Object.assign({},xCommon,{position:'top',axisLine:{show:true,onZero:false,lineStyle:{color:INK,width:4}},axisTick:{show:false},axisLabel:{show:false},splitLine:{show:false}}));
  yAxis.push(Object.assign({},yCommon,{position:'left',
    axisLine:{show:true,onZero:false,lineStyle:{color:INK,width:4}},
    axisTick:{show:false,customValues:yTicks},
    axisLabel:{show:isLeft,customValues:yTicks,margin:26,padding:[11,0,0,0],fontFamily:FF,fontSize:86,color:INK,hideOverlap:false,formatter:v=>String(v).replace('-','\u2212')},
    splitLine:{show:true,lineStyle:{color:GRID,width:7}}}));
  yAxis.push(Object.assign({},yCommon,{position:'right',axisLine:{show:true,onZero:false,lineStyle:{color:INK,width:4}},axisTick:{show:false},axisLabel:{show:false},splitLine:{show:false}}));

  const rows=[];
  p.solo.forEach(d=>rows.push([d[0],d[1],1]));
  p.cols.forEach(c=>c[1].forEach(y=>rows.push([c[0],y,2])));
  p.big.forEach(d=>rows.push(d));
  rows.sort((a,b)=>{
    const ah=a[2]>=30?0:1,bh=b[2]>=30?0:1;
    return ah-bh||a[2]-b[2]||a[0]-b[0]||a[1]-b[1];
  });
  series.push({type:'scatter',xAxisIndex:i*2,yAxisIndex:i*2,clip:false,animation:false,silent:true,
    symbol:'circle',
    data:rows.map(r=>({value:r,symbolSize:r[2]===1?12:r[2]===2?11.5:8.2*Math.sqrt(r[2]),
      itemStyle:{color:r[2]===1?INK:'#fff',borderColor:INK,borderWidth:r[2]===1?5:r[2]===2?7:6,opacity:1}}))});
});

const title=columnTitles.map((t,i)=>({text:t,left:[790,1829][i],top:33,textAlign:'center',
  textStyle:{fontFamily:FF,fontSize:70,fontWeight:'normal',color:INK}}));
title.push({text:xTitle,left:1343,top:3240,textAlign:'center',textStyle:{fontFamily:FF,fontSize:68,fontWeight:'normal',color:INK}});

const graphic=[];
const stageY=[592,1634,2587];
stageTitles.forEach((t,i)=>graphic.push({type:'text',x:2403,y:stageY[i],rotation:Math.PI/2,
  style:{text:t,fontFamily:FF,fontSize:68.5,fill:INK,align:'center',verticalAlign:'middle'}}));
graphic.push({type:'text',x:70,y:1613,rotation:Math.PI/2,style:{
  text:'{t|T}{s|gb}{n| - }{t|T}{s|ob}{n| (\u00B0C)}',align:'center',verticalAlign:'middle',fill:INK,
  rich:{t:{fontFamily:FF,fontStyle:'italic',fontSize:74,fill:INK,verticalAlign:'bottom',lineHeight:90},
        s:{fontFamily:FF,fontStyle:'italic',fontSize:54,fill:INK,verticalAlign:'bottom',lineHeight:70},
        n:{fontFamily:FF,fontSize:74,fill:INK,verticalAlign:'bottom',lineHeight:90}}}});

const chart=echarts.init(document.getElementById('c'),null,{renderer:'canvas',width:2471,height:3346});
chart.setOption({backgroundColor:'#fff',animation:false,title,grid,xAxis,yAxis,series,graphic});
</script></body></html>
